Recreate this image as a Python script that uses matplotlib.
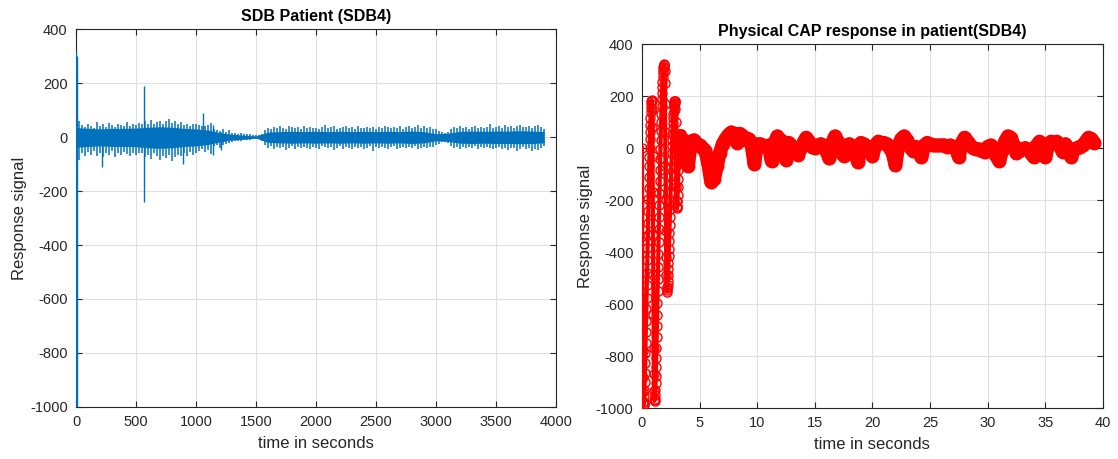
import matplotlib
matplotlib.use('Agg')
import matplotlib.pyplot as plt
import numpy as np

plt.rcParams['font.family'] = ['Liberation Sans', 'DejaVu Sans']
plt.rcParams['axes.unicode_minus'] = False

# ---- left panel: raw signal, read as per-bin extremes (every 25 s) ----
bin_step = 25
sig_hi = [45, 60, 45, 38, 50, 42, 35, 55, 40, 48, 36, 52, 44, 38, 50, 46, 40, 55, 42, 48,
          45, 52, 48, 58, 50, 62, 48, 55, 60, 50, 58, 65, 52, 60, 48, 55, 45, 50, 42, 48,
          50, 45, 42, 40, 45, 52, 30, 25, 22, 28, 20, 25, 15, 14, 12, 15, 12, 10, 11, 9,
          7, 6, 12, 25, 35, 30, 38, 32, 40, 35, 30, 42, 38, 33, 36, 30, 40, 34, 38, 32,
          35, 30, 38, 45, 32, 36, 40, 30, 34, 38, 42, 33, 36, 30, 40, 35, 32, 38, 34, 36,
          30, 38, 34, 40, 36, 32, 38, 35, 42, 30, 36, 40, 33, 37, 46, 35, 40, 32, 36, 30,
          28, 22, 18, 15, 20, 30, 36, 32, 40, 34, 38, 30, 36, 42, 34, 38, 32, 36, 48, 35,
          36, 40, 34, 45, 38, 42, 35, 40, 44, 36, 38, 42, 35, 40, 46, 38, 30]
sig_lo = [-70, -85, -60, -70, -55, -65, -50, -72, -60, -75, -58, -66, -52, -75, -60, -68, -55, -62, -70, -58,
          -65, -60, -58, -75, -68, -80, -60, -72, -85, -70, -78, -65, -90, -75, -68, -70, -60, -72, -55, -65,
          -60, -50, -45, -55, -48, -62, -35, -30, -42, -28, -25, -22, -18, -16, -15, -14, -12, -12, -10, -9,
          -7, -8, -15, -30, -40, -35, -45, -38, -42, -36, -48, -40, -35, -44, -38, -42, -36, -40, -45, -38,
          -40, -45, -35, -38, -42, -36, -48, -40, -35, -44, -38, -40, -45, -36, -42, -38, -46, -40, -35, -52,
          -38, -42, -36, -40, -45, -38, -35, -44, -40, -36, -42, -38, -40, -35, -45, -42, -38, -40, -36, -38,
          -30, -25, -20, -18, -22, -35, -40, -38, -45, -36, -42, -38, -40, -35, -44, -38, -42, -36, -40, -45,
          -42, -38, -45, -40, -48, -42, -40, -50, -44, -38, -45, -40, -52, -45, -48, -42, -35]

# isolated large spikes (time, top, bottom)
spike_t = [0, 5, 214, 566, 893, 1055, 1139, 1205]
spike_hi = [320, 300, 20, 190, 20, 88, 45, 20]
spike_lo = [-1000, -1000, -110, -240, -100, -20, -67, -48]

# dense core of the trace (every 100 s)
core_hi = [35, 32, 30, 32, 32, 33, 36, 38, 36, 32, 30, 26, 16, 10, 7, 4, 18, 20, 21, 20,
           21, 20, 21, 20, 21, 20, 21, 20, 22, 20, 12, 14, 21, 22, 21, 22, 22, 23, 22, 20]
core_lo = [-38, -35, -33, -35, -35, -36, -40, -42, -40, -35, -33, -28, -18, -11, -8, -4, -20, -22, -23, -22,
           -23, -22, -23, -22, -23, -22, -23, -22, -24, -22, -14, -16, -23, -24, -23, -24, -24, -25, -24, -22]

# ---- right panel: CAP response ----
# fast start, sampled every 0.02 s
early_dt = 0.02
early_v = [0, -340, -630, -780, -880, -940, -975, -988,
           -985, -975, -955, -930, -900, -865, -828, -790, -750, -708, -665, -620, -575, -528, -480,
           -432, -384, -336, -288, -242, -196, -152, -110, -70, -33, 1, 33, 62, 90, 115, 137, 155, 170,
           180, 185, 180,
           150, 80, -30, -170, -330, -490, -640, -770, -870, -935, -970,
           -972, -965, -950, -930, -905, -875, -842, -806, -768, -728, -686, -642, -597, -551, -504,
           -456, -408, -360, -312, -265, -218, -172, -128, -85, -44, -5, 32, 67, 100, 131, 160, 187,
           212, 235, 255, 273, 288, 301, 311, 318,
           322, 320, 312, 295,
           250, 170, 60, -70, -200, -320, -420, -490, -535, -552,
           -548, -540, -527, -510, -490, -467, -442, -415, -387, -358, -328, -297, -266, -234, -202,
           -170, -138, -107, -77, -48, -20, 6, 31, 54, 76, 96, 114, 130, 144, 156, 166, 174, 179, 182, 180,
           172, 150,
           100, 20, -70, -150, -205, -228, -232,
           -222, -205, -180, -150, -118, -85, -55, -28, -5, 15, 30, 42, 50, 54, 55, 54, 52, 50, 47, 45, 42, 40]

# slower part, sampled every 0.25 s from 3.5 s
late_t0 = 3.5
late_dt = 0.25
late_v = [35, -50, -70, 25, 30, 15, 10, 0, -10, -60, -130, -120, -70, -20, 15, 35, 50, 60, 55, 20,
          55, 45, 30, 35, 15, -60, 15, 15, 10, 5, 10, -50, 20, 45, 30, 25, -45, 20, 5, -15,
          -25, -5, 20, 40, 25, 5, 0, 10, 15, 5, -10, -40, 20, 45, 25, -10, -30, 10, 15, 5,
          -20, -55, 20, 15, 5, -10, -30, 10, 25, 20, 20, 15, 0, -20, -65, 10, 35, 45, 30, 5,
          -10, 5, -15, -35, 10, 20, 15, 10, 10, 10, 10, 10, 5, 10, 5, -5, -35, 20, 40, 25,
          10, 0, -5, -5, -10, -15, 5, 10, 0, -30, -50, -10, 25, 45, 40, 10, -20, -10, -5, 0,
          -5, -20, -35, 10, 25, -10, -35, 10, 25, 20, 25, 10, -15, 15, -10, -35, -5, 0, 5, 10,
          25, 40, 35, 20]

blue = '#0072BD'
txt = '#262626'

fig = plt.figure(figsize=(11.18, 4.59), dpi=100)
ax1 = fig.add_axes([0.0680, 0.1133, 0.4293, 0.8235])
ax2 = fig.add_axes([0.5742, 0.1111, 0.4123, 0.7930])

sig_t = np.arange(len(sig_hi)) * bin_step
core_t = np.arange(len(core_hi)) * 100
ax1.fill_between(core_t, core_lo, core_hi, color=blue, lw=0, zorder=3)
ax1.vlines(sig_t, sig_lo, sig_hi, color=blue, lw=1.1, zorder=3)
ax1.vlines(spike_t, spike_lo, spike_hi, color=blue, lw=1.0, zorder=3)

early_t = np.arange(len(early_v)) * early_dt
late_t = late_t0 + np.arange(len(late_v)) * late_dt
ax2.plot(late_t, late_v, '-', color='red', lw=10, solid_joinstyle='round',
         solid_capstyle='round', zorder=3)
ax2.plot(late_t, late_v, 'o', color='red', mfc='red', mec='red', ms=9, mew=1, zorder=3)
ax2.plot(early_t, early_v, '-', color='red', lw=3, zorder=3)
ax2.plot(early_t, early_v, 'o', color='red', mfc='none', mec='red', ms=6.5, mew=1, zorder=3)

def style(ax, xmax, xstep):
    ax.set_xlim(0, xmax)
    ax.set_ylim(-1000, 400)
    ax.set_xticks(np.arange(0, xmax + 1, xstep))
    ax.set_yticks(np.arange(-1000, 401, 200))
    ax.grid(True, color='#dfdfdf', lw=0.8)
    ax.set_axisbelow(True)
    ax.tick_params(direction='in', top=True, right=True, length=4, width=0.8,
                   colors=txt, labelsize=10.5, pad=6)
    for s in ax.spines.values():
        s.set_color(txt)
        s.set_linewidth(0.8)
    ax.set_xlabel('time in seconds', fontsize=12, color=txt, labelpad=5)
    ax.set_ylabel('Response signal', fontsize=12, color=txt, labelpad=2)

style(ax1, 4000, 500)
style(ax2, 40, 5)
ax1.set_title('SDB Patient (SDB4)', fontsize=11.5, fontweight='bold', pad=6)
ax2.set_title('Physical CAP response in patient(SDB4)', fontsize=11.5, fontweight='bold', pad=6)

fig.savefig('out.png', dpi=100)
